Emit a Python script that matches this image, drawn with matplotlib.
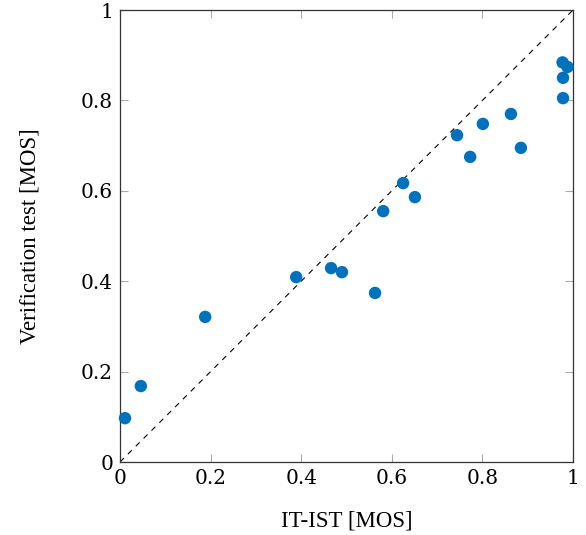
import matplotlib
matplotlib.use("Agg")
import matplotlib.pyplot as plt

x_itist = [0.011, 0.046, 0.188, 0.389, 0.466, 0.490, 0.563, 0.581, 0.625, 0.651,
           0.744, 0.773, 0.801, 0.863, 0.885, 0.977, 0.988, 0.978, 0.978]
y_verif = [0.097, 0.168, 0.321, 0.409, 0.429, 0.420, 0.374, 0.555, 0.617, 0.586,
           0.723, 0.675, 0.748, 0.770, 0.695, 0.884, 0.874, 0.850, 0.805]
ticks = [0, 0.2, 0.4, 0.6, 0.8, 1]
tick_labels = ["0", "0.2", "0.4", "0.6", "0.8", "1"]

plt.rcParams['font.family'] = ['Liberation Serif', 'DejaVu Serif']

fig = plt.figure(figsize=(5.86, 5.35), dpi=100)
ax = fig.add_axes([120/586, 1-462/535, 453/586, 452/535])

ax.plot([0, 1], [0, 1], color='black', linestyle=(0, (5, 5)), linewidth=0.8, zorder=1)
ax.scatter(x_itist, y_verif, s=80, color='#0072bd', edgecolors='none', zorder=3, clip_on=False)

ax.set_xlim(0, 1)
ax.set_ylim(0, 1)
ax.set_xticks(ticks)
ax.set_xticklabels(tick_labels, fontfamily='DejaVu Serif', fontsize=14.5)
ax.set_yticks(ticks)
ax.set_yticklabels(tick_labels, fontfamily='DejaVu Serif', fontsize=14.5)
ax.tick_params(direction='in', length=6, width=0.8, color='#aaaaaa',
               top=True, right=True, pad=5)
for s in ax.spines.values():
    s.set_linewidth(0.9)
    s.set_color('#333333')

ax.set_xlabel('IT-IST [MOS]', fontsize=16.5, labelpad=16)
ax.set_ylabel('Verification test [MOS]', fontsize=16.5, labelpad=29)

fig.savefig('out.png', dpi=100)
